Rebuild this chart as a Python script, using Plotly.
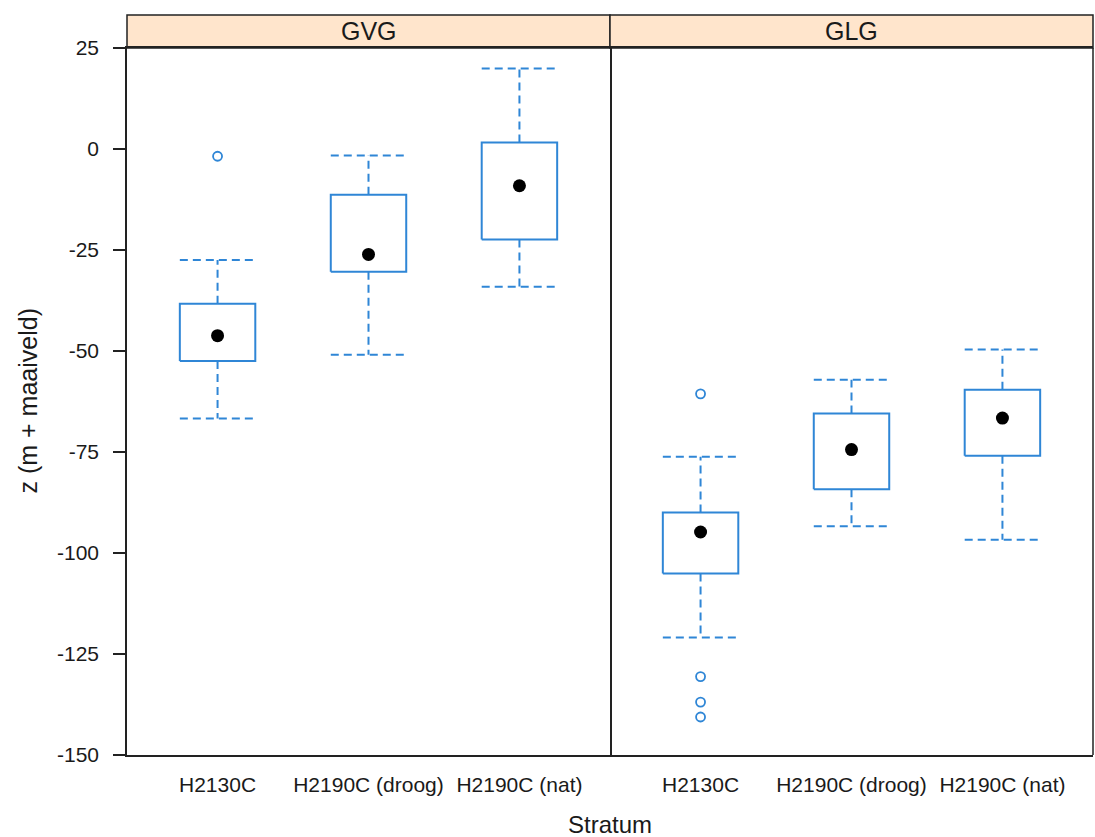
import plotly.graph_objects as go

categories = ["H2130C", "H2190C (droog)", "H2190C (nat)"]
panels = ["GVG", "GLG"]

# GVG
gvg_lower = [-66.7, -50.9, -34.1]
gvg_q1 = [-52.5, -30.4, -22.4]
gvg_median = [-46.2, -26.1, -9.1]
gvg_q3 = [-38.3, -11.3, 1.6]
gvg_upper = [-27.5, -1.6, 19.9]
gvg_outliers = [[-1.8], [], []]

# GLG
glg_lower = [-120.9, -93.4, -96.7]
glg_q1 = [-105.1, -84.2, -75.9]
glg_median = [-94.8, -74.4, -66.6]
glg_q3 = [-90.0, -65.5, -59.6]
glg_upper = [-76.2, -57.1, -49.6]
glg_outliers = [[-60.6, -130.6, -136.9, -140.6], [], []]

y_ticks = [25, 0, -25, -50, -75, -100, -125, -150]
y_ticktext = ["25", "0", "-25", "-50", "-75", "-100", "-125", "-150"]

BLUE = "#2f86d6"
FONT = "Liberation Sans, Arial, sans-serif"
TXT = "#1a1a1a"
HALF = 0.25

fig = go.Figure()

data = [
    (gvg_lower, gvg_q1, gvg_median, gvg_q3, gvg_upper, gvg_outliers),
    (glg_lower, glg_q1, glg_median, glg_q3, glg_upper, glg_outliers),
]

for p, (lo, q1, med, q3, up, outl) in enumerate(data):
    xa = "x" if p == 0 else "x2"
    ya = "y" if p == 0 else "y2"
    wx, wy = [], []
    bx, by = [], []
    ox, oy = [], []
    for i in range(len(categories)):
        c = i + 1
        wx += [c, c, None, c, c, None]
        wy += [q3[i], up[i], None, q1[i], lo[i], None]
        wx += [c - HALF, c + HALF, None, c - HALF, c + HALF, None]
        wy += [up[i], up[i], None, lo[i], lo[i], None]
        bx += [c - HALF, c + HALF, c + HALF, c - HALF, c - HALF, None]
        by += [q1[i], q1[i], q3[i], q3[i], q1[i], None]
        for v in outl[i]:
            ox.append(c)
            oy.append(v)
    fig.add_trace(go.Scatter(x=wx, y=wy, mode="lines", xaxis=xa, yaxis=ya,
                             line=dict(color=BLUE, width=2, dash="8px,5px"),
                             hoverinfo="skip", showlegend=False))
    fig.add_trace(go.Scatter(x=bx, y=by, mode="lines", xaxis=xa, yaxis=ya,
                             line=dict(color=BLUE, width=2),
                             hoverinfo="skip", showlegend=False))
    fig.add_trace(go.Scatter(x=[i + 1 for i in range(len(categories))], y=med,
                             mode="markers", xaxis=xa, yaxis=ya,
                             marker=dict(color="black", size=13, symbol="circle"),
                             showlegend=False))
    fig.add_trace(go.Scatter(x=ox, y=oy, mode="markers", xaxis=xa, yaxis=ya,
                             marker=dict(color=BLUE, size=9, symbol="circle-open",
                                         line=dict(color=BLUE, width=1.8)),
                             showlegend=False))

common_x = dict(range=[0.4, 3.6], tickvals=[1, 2, 3], ticktext=categories,
                showline=True, mirror=True, linecolor="#222", linewidth=1.5,
                ticks="outside", ticklen=10, tickcolor="rgba(0,0,0,0)",
                showgrid=False, zeroline=False,
                tickfont=dict(family=FONT, size=21, color=TXT))

strip_h = 33 / 707

fig.update_layout(
    width=1095, height=837,
    margin=dict(l=127, r=2, t=48, b=82),
    paper_bgcolor="white", plot_bgcolor="white",
    xaxis=dict(domain=[0, 0.5], **common_x),
    xaxis2=dict(domain=[0.5, 1], anchor="y2", **common_x),
    yaxis=dict(range=[-150, 25], tickvals=y_ticks, ticktext=y_ticktext,
               showline=True, mirror=True, linecolor="#222", linewidth=1.5,
               showgrid=False, zeroline=False,
               ticks="outside", ticklen=12, tickcolor="#222", tickwidth=1.5,
               ticklabelstandoff=10,
               tickfont=dict(family=FONT, size=21, color=TXT)),
    yaxis2=dict(anchor="x2", matches="y", range=[-150, 25], showticklabels=False,
                showline=False, showgrid=False, zeroline=False),
    shapes=[
        dict(type="rect", xref="paper", yref="paper", x0=0, x1=0.5, y0=1, y1=1 + strip_h,
             fillcolor="#FFE5CC", line=dict(color="#222", width=1.5), layer="below"),
        dict(type="rect", xref="paper", yref="paper", x0=0.5, x1=1, y0=1, y1=1 + strip_h,
             fillcolor="#FFE5CC", line=dict(color="#222", width=1.5), layer="below"),
        dict(type="line", xref="paper", yref="paper", x0=1, x1=1, y0=0, y1=1,
             line=dict(color="#222", width=1.5)),
    ],
    annotations=[
        dict(text=panels[0], xref="paper", yref="paper", x=0.25, y=1 + strip_h / 2,
             showarrow=False, xanchor="center", yanchor="middle",
             font=dict(family=FONT, size=25, color=TXT)),
        dict(text=panels[1], xref="paper", yref="paper", x=0.75, y=1 + strip_h / 2,
             showarrow=False, xanchor="center", yanchor="middle",
             font=dict(family=FONT, size=25, color=TXT)),
        dict(text="z (m + maaiveld)", xref="paper", yref="paper", x=0, y=0.5,
             xanchor="center", yanchor="middle", xshift=-100, textangle=-90,
             showarrow=False, font=dict(family=FONT, size=25, color=TXT)),
        dict(text="Stratum", xref="paper", yref="paper", x=0.5, y=0,
             xanchor="center", yanchor="middle", yshift=-69,
             showarrow=False, font=dict(family=FONT, size=24, color=TXT)),
    ],
)

fig.write_html("out.html", config={"displayModeBar": False},
               post_script="document.body.style.margin='0';document.body.style.overflow='hidden';")
